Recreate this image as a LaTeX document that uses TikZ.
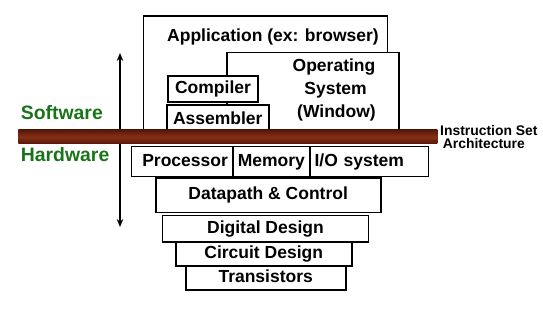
\documentclass[tikz,border=0pt]{standalone}
\usepackage{fontspec}
\setmainfont{Liberation Sans}
\usetikzlibrary{arrows.meta}
\definecolor{swgreen}{RGB}{25,115,25}
\definecolor{barmid}{RGB}{135,48,22}
\definecolor{bardark}{RGB}{85,22,8}
\tikzset{
  lbl/.style={font=\fontsize{17.5}{21}\selectfont\bfseries, inner sep=0pt},
  box/.style={draw=black, line width=1.7pt, fill=white, inner sep=0pt,
              text height=12.5pt, text depth=3.5pt,
              font=\fontsize{17.5}{21}\selectfont\bfseries},
  frame/.style={draw=black, line width=1.6pt, fill=white},
  side/.style={font=\fontsize{19.4}{23}\selectfont\bfseries, text=swgreen, inner sep=0pt, anchor=base west},
  isa/.style={font=\fontsize{13.9}{13}\selectfont\bfseries, inner sep=0pt, anchor=base west},
}
\begin{document}
\begin{tikzpicture}[x=1pt,y=-1pt]
\useasboundingbox (0,0) rectangle (543,308);
% arrow (behind the bar)
\coordinate (atop) at (120,53);
\coordinate (abot) at (120,227);
\draw[line width=1.6pt, {Stealth[length=8pt,width=6.5pt]}-{Stealth[length=8pt,width=6.5pt]}] (atop) -- (abot);
% software frames
\path[frame] (143.3,135) -- (143.3,16) -- (387.3,16) -- (387.3,135);
\path[frame] (226.7,135) -- (226.7,52.3) -- (399,52.3) -- (399,135);
\node[lbl, anchor=base] (app) at (273,41.7) {Application (ex: browser)};
\node[lbl, anchor=base, align=center] (os1) at (334,71) {Operating};
\node[lbl, anchor=base] (os2) at (335.5,94.3) {System};
\node[lbl, anchor=base] (os3) at (336.5,117.3) {(Window)};
\node[box, minimum width=90.6pt, minimum height=25.7pt] (comp) at (213,88.8) {Compiler};
\node[box, minimum width=102.3pt, minimum height=30pt] (asm) at (217.8,120.3) {Assembler};
% ISA bar
\shade[top color=bardark, bottom color=bardark, middle color=barmid] (18.3,129.8) rectangle (437.3,143.8);
\node[side] (sw) at (20.7,119.3) {Software};
\node[side] (hw) at (20.7,161.3) {Hardware};
\node[isa] (isa1) at (440,135) {Instruction Set};
\node[isa] (isa2) at (442.7,148) {Architecture};
% hardware
\node[box, minimum width=101.2pt, minimum height=30pt] (proc) at (182.1,161.5) {\hspace*{6pt}Processor};
\node[box, minimum width=77.3pt, minimum height=30pt] (mem) at (271.3,161.5) {Memory};
\node[box, minimum width=118.3pt, minimum height=30pt, inner xsep=4.5pt, text width=109.3pt, align=left] (io) at (369.2,161.5) {I/O system};
\node[box, minimum width=225pt, minimum height=34.5pt] (dp) at (268.2,195.3) {Datapath \& Control};
\node[box, minimum width=206pt, minimum height=26.2pt] (dd) at (265.5,228.6) {Digital Design};
\node[box, minimum width=176pt, minimum height=24pt] (cd) at (263.7,254) {Circuit Design};
\node[box, minimum width=160pt, minimum height=23.5pt] (tr) at (265.7,278.3) {Transistors};
\end{tikzpicture}
\end{document}
